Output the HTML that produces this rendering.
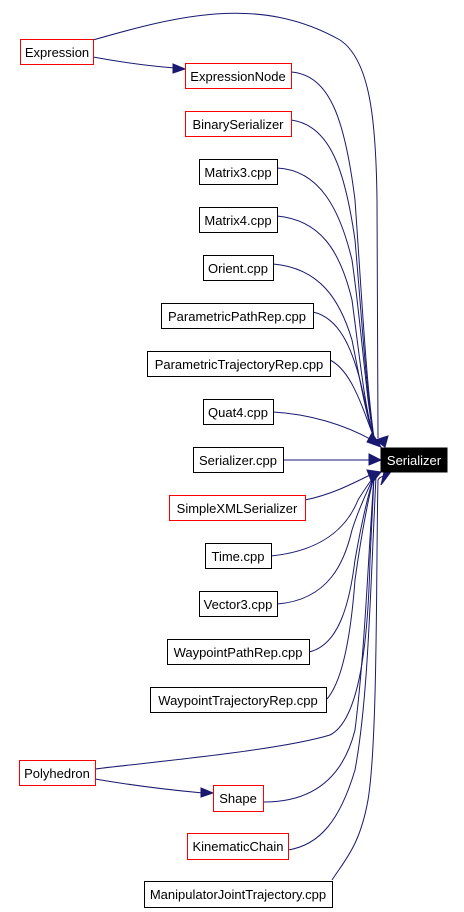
<!DOCTYPE html>
<html><head><meta charset="utf-8"><style>
html,body{margin:0;padding:0;background:#fff;width:464px;height:912px;overflow:hidden}
svg text{font-family:"Liberation Sans",sans-serif;font-size:13px;fill:#000}
</style></head><body>
<svg width="464" height="912" xmlns="http://www.w3.org/2000/svg">
<g fill="none" stroke="#191970" stroke-width="1">
<!-- Expression -> Serializer (over the top) -->
<path d="M93,40 C180,15 260,-5 340,40 C370,60 376,120 377,200 L378,438"/>
<!-- Expression -> ExpressionNode -->
<path d="M93,57 C120,62 150,66 175,68"/>
<!-- upper group -->
<path d="M291,72 C330,75 345,120 355,200 C362,300 366,380 374,438"/>
<path d="M291,120 C330,125 345,170 355,240 C362,320 366,390 374,438"/>
<path d="M277,168 C320,170 340,210 352,260 C362,330 366,400 374,438"/>
<path d="M277,216 C320,220 340,250 352,300 C360,360 365,410 374,438"/>
<path d="M273,264 C320,268 340,300 352,340 C360,380 366,415 374,438"/>
<path d="M313,312 C340,318 352,350 360,380 C366,405 370,425 374,438"/>
<path d="M330,360 C350,370 360,400 374,438"/>
<path d="M273,412 C310,414 345,425 372,440"/>
<!-- Serializer.cpp -->
<path d="M283,460 L372,460"/>
<!-- lower group -->
<path d="M305,500 C330,495 350,485 372,474"/>
<path d="M271,556 C330,550 350,520 358,500 C364,490 370,482 374,476"/>
<path d="M277,604 C330,600 345,560 352,530 C360,505 368,490 374,476"/>
<path d="M309,652 C340,645 350,600 355,560 C362,520 368,495 374,476"/>
<path d="M326,700 C345,680 352,620 355,580 C362,530 368,500 374,476"/>
<!-- Polyhedron -> Serializer -->
<path d="M95,769 C170,760 280,750 330,735 C360,720 368,640 370,560 C372,520 373,500 374,476"/>
<!-- Polyhedron -> Shape -->
<path d="M95,779 C130,785 170,790 203,793"/>
<path d="M264,802 C320,802 345,770 355,730 C365,650 368,560 374,476"/>
<path d="M288,850 C320,845 340,820 355,770 C368,700 370,600 376,476"/>
<path d="M332,880 C345,860 360,845 368,800 C378,740 376,560 378,480 C380,476 385,476 388,476"/>
</g>
<g fill="#191970" stroke="#191970">
<polygon points="173,64 185,69 173,73"/>
<polygon points="201,788 213,793 201,797"/>
<polygon points="372,433 381,447 367,442"/>
<polygon points="388,436 385,447 375,440"/>
<polygon points="369,454 381,460 369,465"/>
<polygon points="367,470 381,472 372,483"/>
<polygon points="390,473 381,485 384,472"/>
</g>
<g stroke-width="1" fill="#fff">
<rect x="20.5" y="39.5" width="73" height="25" stroke="#f00"/>
<rect x="185.5" y="63.5" width="106" height="25" stroke="#f00"/>
<rect x="185.5" y="111.5" width="106" height="25" stroke="#f00"/>
<rect x="199.5" y="159.5" width="78" height="25" stroke="#000"/>
<rect x="199.5" y="207.5" width="78" height="25" stroke="#000"/>
<rect x="203.5" y="255.5" width="70" height="25" stroke="#000"/>
<rect x="161.5" y="303.5" width="152" height="25" stroke="#000"/>
<rect x="147.5" y="351.5" width="183" height="25" stroke="#000"/>
<rect x="203.5" y="399.5" width="70" height="25" stroke="#000"/>
<rect x="193.5" y="447.5" width="90" height="25" stroke="#000"/>
<rect x="169.5" y="495.5" width="136" height="25" stroke="#f00"/>
<rect x="205.5" y="543.5" width="66" height="25" stroke="#000"/>
<rect x="199.5" y="591.5" width="78" height="25" stroke="#000"/>
<rect x="167.5" y="639.5" width="142" height="25" stroke="#000"/>
<rect x="150.5" y="687.5" width="176" height="25" stroke="#000"/>
<rect x="19.5" y="760.5" width="76" height="25" stroke="#f00"/>
<rect x="213.5" y="785.5" width="50" height="26" stroke="#f00"/>
<rect x="187.5" y="833.5" width="101" height="26" stroke="#f00"/>
<rect x="144.5" y="881.5" width="188" height="26" stroke="#000"/>
<rect x="381" y="448" width="66" height="24" fill="#000" stroke="#000"/>
</g>
<g text-anchor="middle">
<text x="57" y="57">Expression</text>
<text x="238" y="81">ExpressionNode</text>
<text x="238" y="129">BinarySerializer</text>
<text x="238" y="177">Matrix3.cpp</text>
<text x="238" y="225">Matrix4.cpp</text>
<text x="238" y="273">Orient.cpp</text>
<text x="237" y="321">ParametricPathRep.cpp</text>
<text x="239" y="369">ParametricTrajectoryRep.cpp</text>
<text x="238" y="417">Quat4.cpp</text>
<text x="238" y="465">Serializer.cpp</text>
<text x="237" y="513">SimpleXMLSerializer</text>
<text x="238" y="561">Time.cpp</text>
<text x="238" y="609">Vector3.cpp</text>
<text x="238" y="657">WaypointPathRep.cpp</text>
<text x="238" y="705">WaypointTrajectoryRep.cpp</text>
<text x="57" y="778">Polyhedron</text>
<text x="238" y="803">Shape</text>
<text x="238" y="851">KinematicChain</text>
<text x="238" y="899">ManipulatorJointTrajectory.cpp</text>
<text x="414" y="465" style="fill:#fff">Serializer</text>
</g>
</svg>
</body></html>
